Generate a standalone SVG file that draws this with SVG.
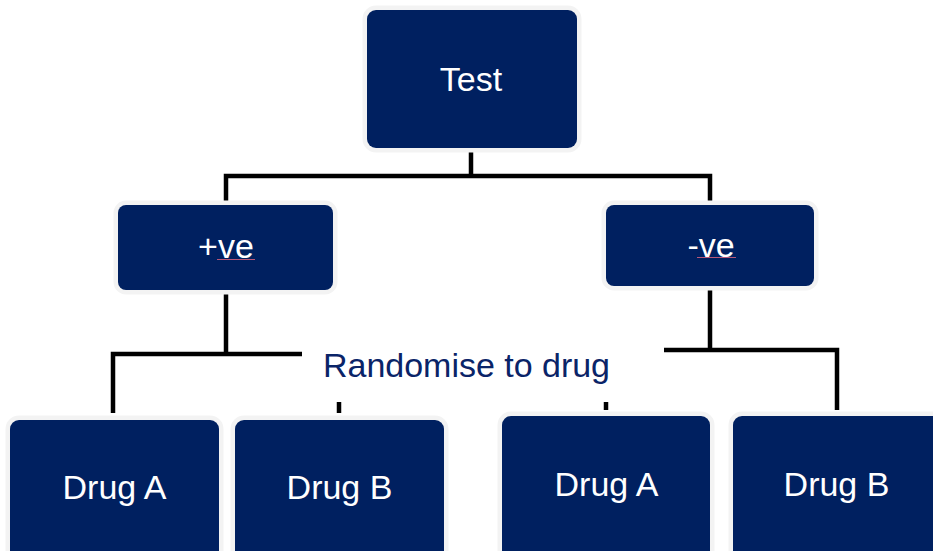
<svg xmlns="http://www.w3.org/2000/svg" width="933" height="551" viewBox="0 0 933 551">
  <style>
    .box { fill: #002060; stroke: #f3f3f3; stroke-width: 9; paint-order: stroke; }
    .lbl { font-family: "Liberation Sans", Arial, sans-serif; font-size: 34px; fill: #ffffff; text-anchor: middle; }
    .note { font-family: "Liberation Sans", Arial, sans-serif; font-size: 34px; fill: #0a2468; }
    .wire { stroke: #000000; stroke-width: 4.5; fill: none; stroke-linecap: butt; stroke-linejoin: miter; }
    .squiggle { stroke: #b8587a; stroke-width: 1.2; fill: none; }
  </style>
  <rect width="933" height="551" fill="#ffffff"/>

  <!-- connectors -->
  <g id="connectors">
    <path class="wire" d="M471 148 V176"/>
    <path class="wire" d="M226 205 V176 H710 V205"/>
    <path class="wire" d="M226 290 V354"/>
    <path class="wire" d="M302 354 H113 V413"/>
    <path class="wire" d="M339 402 V413"/>
    <path class="wire" d="M710 286 V350"/>
    <path class="wire" d="M664 350 H837 V410"/>
    <path class="wire" d="M606 402 V410"/>
  </g>

  <g id="node-test">
    <rect class="box" x="367" y="10" width="210" height="138" rx="9"/>
    <text class="lbl" x="471" y="91">Test</text>
  </g>

  <g id="node-positive">
    <rect class="box" x="118" y="205" width="215" height="85" rx="8"/>
    <text class="lbl" x="226" y="258">+ve</text>
    <path class="squiggle" d="M217 259.5 H255"/>
  </g>

  <g id="node-negative">
    <rect class="box" x="606" y="205" width="208" height="81" rx="8"/>
    <text class="lbl" x="711" y="257">-ve</text>
    <path class="squiggle" d="M697 257.5 H736"/>
  </g>

  <g id="label-randomise">
    <text class="note" x="323" y="377" textLength="287" lengthAdjust="spacing">Randomise to drug</text>
  </g>

  <g id="node-pos-drug-a">
    <rect class="box" x="10" y="420" width="209" height="150" rx="9"/>
    <text class="lbl" x="114.5" y="499">Drug A</text>
  </g>

  <g id="node-pos-drug-b">
    <rect class="box" x="235" y="420" width="209" height="150" rx="9"/>
    <text class="lbl" x="339.5" y="499">Drug B</text>
  </g>

  <g id="node-neg-drug-a">
    <rect class="box" x="502" y="416" width="208" height="150" rx="9"/>
    <text class="lbl" x="606.5" y="496">Drug A</text>
  </g>

  <g id="node-neg-drug-b">
    <rect class="box" x="733" y="416" width="208" height="150" rx="9"/>
    <text class="lbl" x="836.5" y="496">Drug B</text>
  </g>
</svg>
